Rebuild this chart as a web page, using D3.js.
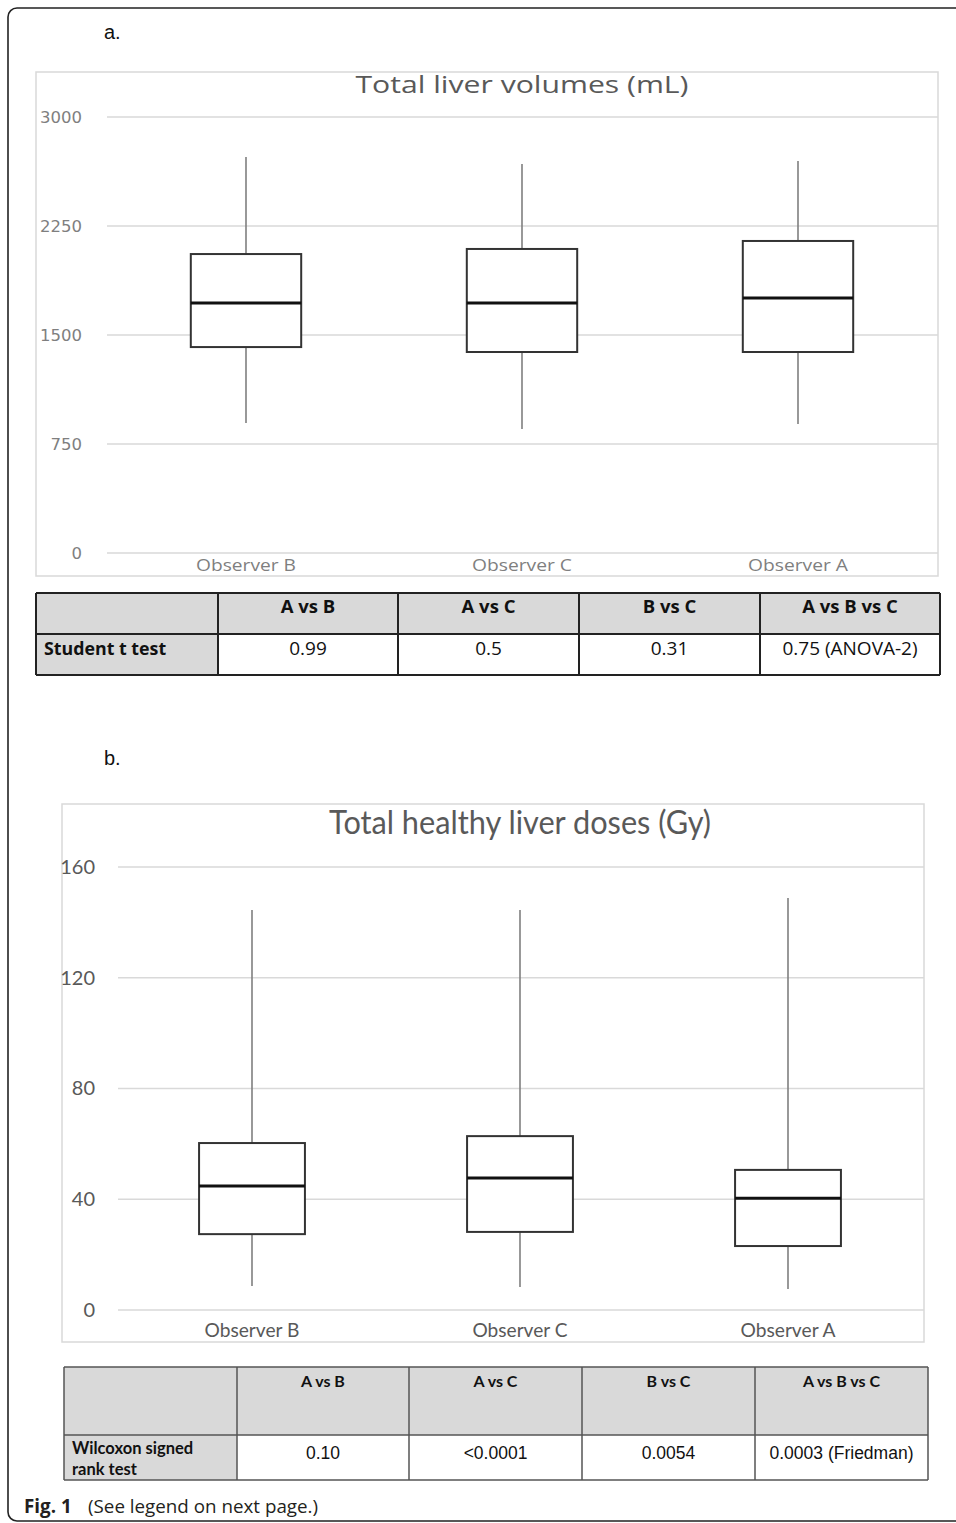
<!DOCTYPE html>
<html>
<head>
<meta charset="utf-8">
<script src="https://cdn.jsdelivr.net/npm/d3@7"></script>
<style>
  html, body { margin: 0; padding: 0; background: #fff; }
  svg { display: block; }
</style>
</head>
<body>
<svg id="fig" width="956" height="1523"></svg>
<script>
// Observers shown on the x axis (same order in both panels)
const observers = ["Observer B", "Observer C", "Observer A"];

// Panel a: total liver volumes (mL) — [min, Q1, median, Q3, max]
const volumeStats = [
  [894, 1417, 1720, 2057, 2725],
  [853, 1383, 1720, 2092, 2677],
  [888, 1383, 1755, 2147, 2697]
];
const volumeTicks = [0, 750, 1500, 2250, 3000];

// Panel b: total healthy liver doses (Gy) — [min, Q1, median, Q3, max]
const doseStats = [
  [8.7, 27.4, 44.8, 60.3, 144.5],
  [8.3, 28.2, 47.7, 62.8, 144.5],
  [7.6, 23.1, 40.4, 50.6, 148.8]
];
const doseTicks = [0, 40, 80, 120, 160];

// Statistical test tables
const comparisons = ["A vs B", "A vs C", "B vs C", "A vs B vs C"];
const tTestP = ["0.99", "0.5", "0.31", "0.75 (ANOVA-2)"];
const wilcoxonP = ["0.10", "<0.0001", "0.0054", "0.0003 (Friedman)"];

const svg = d3.select("#fig");

// Outer figure frame (rounded, runs off the right edge)
svg.append("rect")
  .attr("x", 8).attr("y", 8).attr("width", 1000).attr("height", 1513)
  .attr("rx", 9).attr("fill", "none").attr("stroke", "#222").attr("stroke-width", 1.6);

// Panel letters
svg.append("text").attr("x", 104).attr("y", 39).text("a.")
  .attr("font-family", "Liberation Sans, Arial, sans-serif").attr("font-size", 20).attr("fill", "#111");
svg.append("text").attr("x", 104).attr("y", 765).text("b.")
  .attr("font-family", "Liberation Sans, Arial, sans-serif").attr("font-size", 20).attr("fill", "#111");

function boxPanel(cfg) {
  const g = svg.append("g");
  // chart area frame
  g.append("rect")
    .attr("x", cfg.frame[0]).attr("y", cfg.frame[1])
    .attr("width", cfg.frame[2] - cfg.frame[0]).attr("height", cfg.frame[3] - cfg.frame[1])
    .attr("fill", "#fff").attr("stroke", "#d9d9d9").attr("stroke-width", 1.5);

  const y = d3.scaleLinear().domain(cfg.domain).range(cfg.yRange);
  const x = d3.scaleBand().domain(observers).range(cfg.xRange).paddingInner(0).paddingOuter(0);

  // gridlines
  g.selectAll(".grid").data(cfg.ticks).join("line")
    .attr("x1", cfg.gridX[0]).attr("x2", cfg.gridX[1])
    .attr("y1", d => y(d)).attr("y2", d => y(d))
    .attr("stroke", "#d9d9d9").attr("stroke-width", 1.5);

  // y tick labels via a D3 axis without domain/ticks
  const yAxis = g.append("g")
    .attr("transform", `translate(${cfg.tickX},0)`)
    .call(d3.axisLeft(y).tickValues(cfg.ticks).tickSize(0).tickPadding(0).tickFormat(d3.format("d")));
  yAxis.select(".domain").remove();
  yAxis.selectAll("text")
    .attr("font-family", cfg.tickFont).attr("font-size", cfg.tickSize).attr("fill", cfg.tickColor);

  // category labels
  g.selectAll(".cat").data(observers).join("text")
    .attr("x", d => x(d) + x.bandwidth() / 2).attr("y", cfg.catY)
    .attr("text-anchor", "middle")
    .attr("font-family", cfg.catFont).attr("font-size", cfg.catSize).attr("fill", cfg.catColor)
    .attr("textLength", cfg.catLen).attr("lengthAdjust", "spacingAndGlyphs")
    .text(d => d);

  // title
  g.append("text")
    .attr("x", cfg.titleX).attr("y", cfg.titleY).attr("text-anchor", "middle")
    .attr("font-family", cfg.titleFont).attr("font-size", cfg.titleSize).attr("fill", "#595959")
    .attr("textLength", cfg.titleLen).attr("lengthAdjust", "spacingAndGlyphs")
    .text(cfg.title);

  // boxes
  const bw = x.bandwidth() * cfg.boxFrac;
  const boxes = g.selectAll(".box").data(cfg.stats.map((s, i) => ({ name: observers[i], s })))
    .join("g")
    .attr("transform", d => `translate(${x(d.name) + x.bandwidth() / 2},0)`);

  boxes.append("line").attr("x1", 0).attr("x2", 0)
    .attr("y1", d => y(d.s[4])).attr("y2", d => y(d.s[3]))
    .attr("stroke", "#7f7f7f").attr("stroke-width", 1.6);
  boxes.append("line").attr("x1", 0).attr("x2", 0)
    .attr("y1", d => y(d.s[1])).attr("y2", d => y(d.s[0]))
    .attr("stroke", "#7f7f7f").attr("stroke-width", 1.6);
  boxes.append("rect")
    .attr("x", -bw / 2).attr("width", bw)
    .attr("y", d => y(d.s[3])).attr("height", d => y(d.s[1]) - y(d.s[3]))
    .attr("fill", "#fff").attr("stroke", "#333").attr("stroke-width", 2);
  boxes.append("line")
    .attr("x1", -bw / 2).attr("x2", bw / 2)
    .attr("y1", d => y(d.s[2])).attr("y2", d => y(d.s[2]))
    .attr("stroke", "#111").attr("stroke-width", 3);
}

boxPanel({
  frame: [36, 72, 938, 576],
  domain: [0, 3000], yRange: [553, 117],
  xRange: [108, 936], gridX: [107, 938],
  ticks: volumeTicks, tickX: 82,
  tickFont: "DejaVu Sans, sans-serif", tickSize: 16.5, tickColor: "#7f7f7f",
  catY: 571, catFont: "Open Sans, sans-serif", catSize: 15.5, catColor: "#7f7f7f", catLen: 100,
  title: "Total liver volumes (mL)", titleX: 522, titleY: 93,
  titleFont: "Open Sans, sans-serif", titleSize: 24, titleLen: 333,
  stats: volumeStats, boxFrac: 0.4
});

boxPanel({
  frame: [62, 804, 924, 1342],
  domain: [0, 160], yRange: [1310, 867],
  xRange: [118, 922], gridX: [118, 924],
  ticks: doseTicks, tickX: 95,
  tickFont: "Lato, sans-serif", tickSize: 20, tickColor: "#595959",
  catY: 1337, catFont: "Lato, sans-serif", catSize: 20, catColor: "#595959", catLen: 95,
  title: "Total healthy liver doses (Gy)", titleX: 520, titleY: 834,
  titleFont: "Lato, sans-serif", titleSize: 33, titleLen: 382,
  stats: doseStats, boxFrac: 0.395
});

function statTable(cfg) {
  const g = svg.append("g");
  const cols = cfg.cols; // column edges
  const rows = cfg.rows; // row edges
  // grey header row
  g.append("rect").attr("x", cols[0]).attr("y", rows[0])
    .attr("width", cols[cols.length - 1] - cols[0]).attr("height", rows[1] - rows[0])
    .attr("fill", "#d9d9d9");
  // grey first column of data row
  g.append("rect").attr("x", cols[0]).attr("y", rows[1])
    .attr("width", cols[1] - cols[0]).attr("height", rows[2] - rows[1])
    .attr("fill", "#d9d9d9");
  // grid lines
  g.selectAll(".h").data(rows).join("line")
    .attr("x1", cols[0]).attr("x2", cols[cols.length - 1])
    .attr("y1", d => d).attr("y2", d => d)
    .attr("stroke", cfg.stroke).attr("stroke-width", cfg.sw);
  g.selectAll(".v").data(cols).join("line")
    .attr("x1", d => d).attr("x2", d => d)
    .attr("y1", rows[0]).attr("y2", rows[rows.length - 1])
    .attr("stroke", cfg.stroke).attr("stroke-width", cfg.sw);

  // header labels
  g.selectAll(".hd").data(comparisons).join("text")
    .attr("x", (d, i) => (cols[i + 1] + cols[i + 2]) / 2).attr("y", cfg.headY)
    .attr("text-anchor", "middle")
    .attr("font-family", cfg.headFont).attr("font-weight", "bold")
    .attr("font-size", cfg.headSize).attr("fill", "#111")
    .text(d => d);
  // p values
  g.selectAll(".pv").data(cfg.values).join("text")
    .attr("x", (d, i) => (cols[i + 1] + cols[i + 2]) / 2).attr("y", cfg.valY)
    .attr("text-anchor", "middle")
    .attr("font-family", cfg.valFont).attr("font-size", cfg.valSize).attr("fill", "#111")
    .text(d => d);
  // row label
  const lab = g.append("text")
    .attr("x", cols[0] + 8).attr("y", cfg.labY)
    .attr("font-family", cfg.headFont).attr("font-weight", "bold")
    .attr("font-size", cfg.labSize).attr("fill", "#111");
  cfg.label.forEach((t, i) => {
    lab.append("tspan").attr("x", cols[0] + 8).attr("dy", i === 0 ? 0 : cfg.labSize * 1.3).text(t);
  });
}

statTable({
  cols: [36, 218, 398, 579, 760, 940], rows: [593, 634, 675],
  stroke: "#222", sw: 2,
  headFont: "Open Sans, sans-serif", headY: 613, headSize: 18.5,
  values: tTestP, valY: 655, valFont: "Open Sans, sans-serif", valSize: 19,
  label: ["Student t test"], labY: 655, labSize: 17.8
});

statTable({
  cols: [64, 237, 409, 582, 755, 928], rows: [1367, 1435, 1480],
  stroke: "#555", sw: 1.5,
  headFont: "Lato, sans-serif", headY: 1387, headSize: 16,
  values: wilcoxonP, valY: 1459, valFont: "Liberation Sans, Arial, sans-serif", valSize: 17.5,
  label: ["Wilcoxon signed", "rank test"], labY: 1454, labSize: 16.5
});

// Figure caption
const cap = svg.append("text").attr("x", 24).attr("y", 1513)
  .attr("font-family", "Open Sans, sans-serif").attr("font-size", 18.8).attr("fill", "#231f20");
cap.append("tspan").attr("font-weight", "bold").text("Fig. 1");
cap.append("tspan").attr("x", 88).text("(See legend on next page.)");
</script>
</body>
</html>
